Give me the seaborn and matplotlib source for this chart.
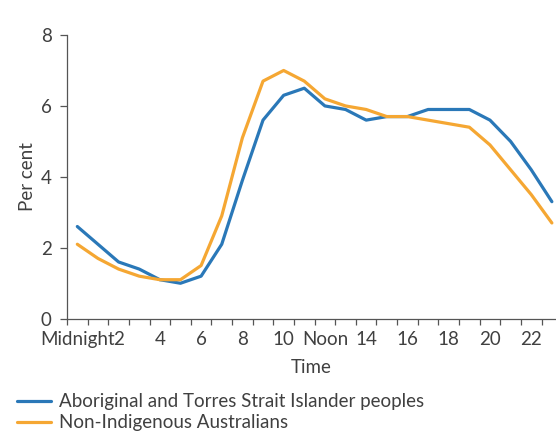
import numpy as np
import pandas as pd
import matplotlib
matplotlib.use("Agg")
import matplotlib.pyplot as plt
import seaborn as sns

# hourly share of activity (bin centres at half hours)
hours = np.arange(24) + 0.5
indigenous = [2.6, 2.1, 1.6, 1.4, 1.1, 1.0, 1.2, 2.1, 3.9, 5.6, 6.3, 6.5,
              6.0, 5.9, 5.6, 5.7, 5.7, 5.9, 5.9, 5.9, 5.6, 5.0, 4.2, 3.3]
non_indigenous = [2.1, 1.7, 1.4, 1.2, 1.1, 1.1, 1.5, 2.9, 5.1, 6.7, 7.0, 6.7,
                  6.2, 6.0, 5.9, 5.7, 5.7, 5.6, 5.5, 5.4, 4.9, 4.2, 3.5, 2.7]
series_names = ["Aboriginal and Torres Strait Islander peoples",
                "Non-Indigenous Australians"]
tick_labels = ["Midnight", "2", "4", "6", "8", "10", "Noon",
               "14", "16", "18", "20", "22"]

df = pd.DataFrame({
    "hour": np.concatenate([hours, hours]),
    "pct": indigenous + non_indigenous,
    "group": [series_names[0]] * 24 + [series_names[1]] * 24,
})

sns.set_style("white")
plt.rcParams["font.family"] = ["Lato", "DejaVu Sans"]
text_col = "#404040"
fs = 13.5

fig = plt.figure(figsize=(5.56, 4.41), dpi=100)
ax = fig.add_axes([0.1205, 0.2773, 0.8795, 0.6433])

palette = {series_names[0]: "#2A78B8", series_names[1]: "#F5A733"}
sns.lineplot(data=df, x="hour", y="pct", hue="group", palette=palette,
             linewidth=2.3, ax=ax, legend=False)

ax.set_xlim(0, 23.7)
ax.set_ylim(0, 8)
ax.set_yticks([0, 2, 4, 6, 8])
ax.set_xticks(np.arange(24))
ax.set_xticklabels([])
ax.set_xticks(np.arange(12) * 2 + 0.5, minor=True)
ax.set_xticklabels(tick_labels, minor=True)
ax.tick_params(axis="x", which="major", direction="out", length=4,
               width=0.9, color="#555555", bottom=True)
ax.tick_params(axis="x", which="minor", length=0, labelsize=fs,
               labelcolor=text_col, pad=9)
ax.tick_params(axis="y", direction="out", length=5, width=0.9,
               color="#555555", labelsize=fs, labelcolor=text_col, left=True,
               pad=6)

for side in ["top", "right"]:
    ax.spines[side].set_visible(False)
for side in ["left", "bottom"]:
    ax.spines[side].set_color("#555555")
    ax.spines[side].set_linewidth(0.9)

ax.set_xlabel("Time", fontsize=fs, color=text_col, labelpad=8)
ax.set_ylabel("Per cent", fontsize=fs, color=text_col, labelpad=3.5)

# legend below the chart
handles = [plt.Line2D([], [], color=palette[n], linewidth=2.3) for n in series_names]
fig.legend(handles, series_names, loc="lower left", bbox_to_anchor=(0.0, -0.016),
           frameon=False, fontsize=fs, handlelength=1.8, handletextpad=0.45,
           labelspacing=0.2, labelcolor=text_col)

fig.savefig("out.png", dpi=100)
